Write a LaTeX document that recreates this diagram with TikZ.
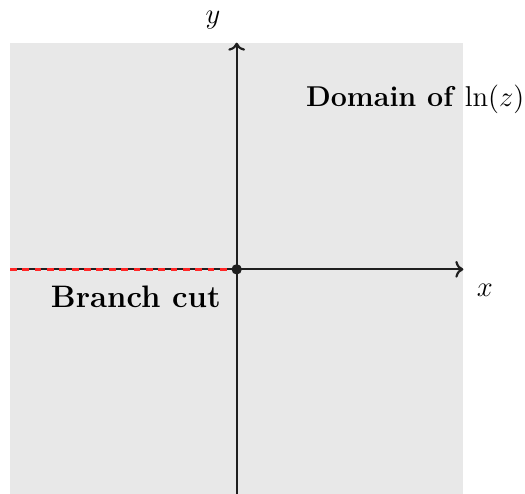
\documentclass[tikz,border=0pt]{standalone}
\usepackage{amsmath}
\usepackage{tikz}
\usetikzlibrary{arrows.meta, positioning, calc}

\begin{document}
\begin{tikzpicture}[
  axis/.style  = {->, line width=1.1pt, black!88},
  cut/.style   = {red!85!white, line width=1.4pt, dash pattern=on 3.4pt off 2.8pt},
  label/.style = {font=\Large},
]
  \useasboundingbox (-4.177,-3.958) rectangle (5.088,4.753);

  % Domain
  \fill[black!9] (-4,-4) rectangle (4,4);

  % Axis ends
  \coordinate (xmin) at (-4,0);
  \coordinate (xmax) at (4,0);
  \coordinate (ymin) at (0,-4);
  \coordinate (ymax) at (0,4);
  \coordinate (O)    at (0,0);

  % Axes
  \draw[axis] (xmin) -- (xmax);
  \draw[axis] (ymin) -- (ymax);

  % Branch cut along negative real axis
  \draw[cut] (xmin) -- (O);
  \fill[black!88] (O) circle (2.6pt);

  % Labels
  \node[label] (xlab) at (4.38,-0.37) {$x$};
  \node[label] (ylab) at (-0.42,4.40) {$y$};
  \node[label] (dom)  at (3.15,3.0)   {\textbf{Domain of} $\ln(z)$};
  \node[font=\fontsize{15.6}{19}\selectfont\bfseries] (bcut) at (-1.78,-0.49) {Branch cut};
\end{tikzpicture}
\end{document}
